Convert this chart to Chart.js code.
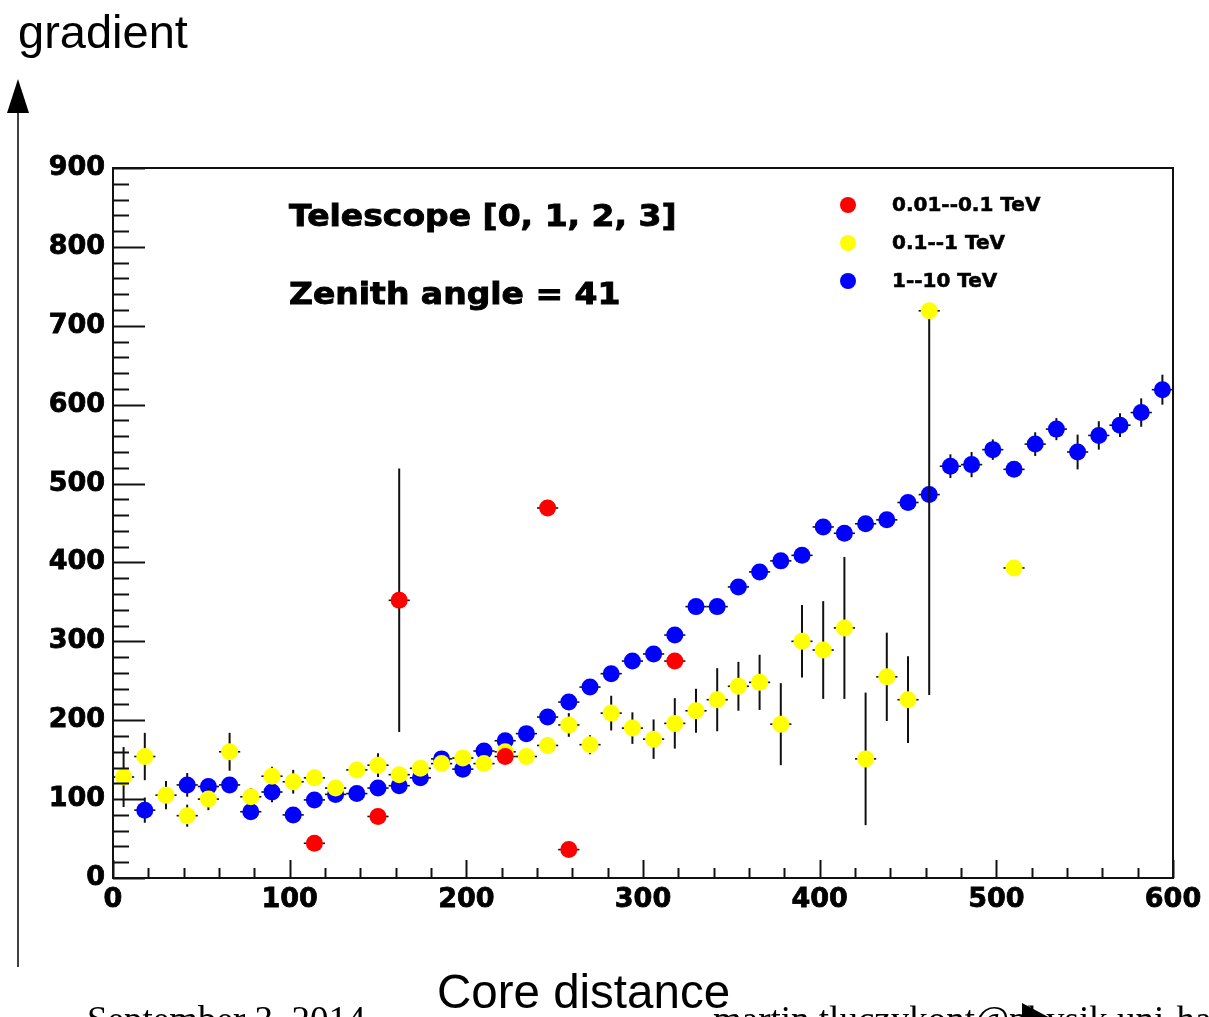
<!DOCTYPE html>
<html>
<head>
<meta charset="utf-8">
<script src="https://cdn.jsdelivr.net/npm/chart.js@4.4.1/dist/chart.umd.min.js"></script>
<style>
  html, body { margin: 0; padding: 0; background: #fff; }
  #page { position: relative; width: 1209px; height: 1017px; overflow: hidden; background: #fff; }
  #c { position: absolute; left: 0; top: 0; }
  #deco { position: absolute; left: 0; top: 0; }
</style>
</head>
<body>
<div id="page">
  <canvas id="c" width="1209" height="1017"></canvas>
  <svg id="deco" width="1209" height="1017" xmlns="http://www.w3.org/2000/svg">
    <text x="18" y="48" font-family="Liberation Sans, Arial, sans-serif" font-size="47" fill="#000">gradient</text>
    <line x1="18" y1="108" x2="18" y2="967" stroke="#000" stroke-width="1.5"/>
    <polygon points="18,79 7,113 29,113" fill="#000"/>
    <text x="437" y="1008" font-family="Liberation Sans, Arial, sans-serif" font-size="47.5" fill="#000">Core distance</text>
    <text x="87" y="1032" font-family="Liberation Serif, Times New Roman, serif" font-size="37" fill="#000">September 3, 2014</text>
    <text x="713" y="1032" font-family="Liberation Serif, Times New Roman, serif" font-size="37" fill="#000">martin.tluczykont@physik.uni-hamburg.de</text>
    <polygon points="1022,1003 1022,1037 1054,1020" fill="#000"/>
  </svg>
</div>
<script>
// Core distance bin centres (12-unit bins from 0 to 600)
const distances = [6, 18, 30, 42, 54, 66, 78, 90, 102, 114,
                   126, 138, 150, 162, 174, 186, 198, 210, 222, 234,
                   246, 258, 270, 282, 294, 306, 318, 330, 342, 354,
                   366, 378, 390, 402, 414, 426, 438, 450, 462, 474,
                   486, 498, 510, 522, 534, 546, 558, 570, 582, 594];

// 0.01--0.1 TeV
const redValues = [null, null, null, null, null, null, null, null, null, 44,
                   null, null, 78, 352, null, null, null, null, 154, null,
                   469, 36, null, null, null, null, 275, null, null, null,
                   null, null, null, null, null, null, null, null, null, null,
                   null, null, null, null, null, null, null, null, null, null];
const redErrors = [null, null, null, null, null, null, null, null, null, 5,
                   null, null, 5, 167, null, null, null, null, 5, null,
                   5, 5, null, null, null, null, 5, null, null, null,
                   null, null, null, null, null, null, null, null, null, null,
                   null, null, null, null, null, null, null, null, null, null];

// 0.1--1 TeV
const yellowValues = [128, 154, 105, 79, 100, 160, 103, 129, 122, 127,
                      114, 137, 143, 131, 139, 145, 152, 145, 160, 154,
                      168, 194, 169, 209, 190, 176, 196, 212, 226, 243,
                      248, 195, 300, 289, 317, 151, 255, 226, 719, null,
                      null, null, 393, null, null, null, null, null, null, null];
const yellowErrors = [38, 30, 18, 14, 14, 24, 11, 12, 15, 10,
                      8, 8, 15, 8, 8, 8, 8, 8, 8, 8,
                      10, 15, 12, 22, 20, 25, 32, 28, 40, 31,
                      35, 52, 46, 62, 90, 84, 56, 55, 487, null,
                      null, null, 5, null, null, null, null, null, null, null];

// 1--10 TeV
const blueValues = [null, 86, null, 118, 116, 118, 84, 109, 80, 99,
                    106, 107, 114, 117, 127, 151, 138, 161, 174, 183,
                    204, 223, 242, 259, 275, 284, 308, 344, 344, 369,
                    388, 402, 409, 445, 437, 449, 454, 476, 486, 522,
                    524, 543, 518, 550, 569, 540, 561, 574, 590, 619];
const blueErrors = [null, 16, null, 15, 10, 10, 8, 13, 8, 8,
                    8, 8, 8, 8, 8, 8, 8, 9, 9, 9,
                    10, 10, 9, 9, 9, 9, 9, 9, 9, 9,
                    9, 9, 9, 9, 9, 9, 9, 9, 9, 15,
                    16, 13, 8, 15, 14, 22, 18, 15, 18, 19];

const seriesLabels = ['0.01--0.1 TeV', '0.1--1 TeV', '1--10 TeV'];
const seriesColors = ['#ff0000', '#ffff00', '#0000ff'];
const xTickStep = 100, yTickStep = 100, minorStep = 20;
const binHalfWidth = 6;

function toPoints(values, errors) {
  const pts = [];
  for (let i = 0; i < distances.length; i++) {
    if (values[i] === null) continue;
    pts.push({ x: distances[i], y: values[i], err: errors[i] || 0 });
  }
  return pts;
}

const FONT = '"DejaVu Sans", "Liberation Sans", sans-serif';

// Error bars for each histogram, drawn right before its own markers
const errorBars = {
  id: 'errorBars',
  beforeDatasetDraw(chart, args) {
    const ds = chart.data.datasets[args.index];
    const xs = chart.scales.x, ys = chart.scales.y;
    const ctx = chart.ctx, area = chart.chartArea;
    ctx.save();
    ctx.beginPath();
    ctx.rect(area.left, area.top, area.right - area.left, area.bottom - area.top);
    ctx.clip();
    ctx.strokeStyle = '#111';
    ds.data.forEach(p => {
      const px = xs.getPixelForValue(p.x);
      const py = ys.getPixelForValue(p.y);
      // horizontal: bin width
      ctx.lineWidth = 1.6;
      ctx.beginPath();
      ctx.moveTo(xs.getPixelForValue(p.x - binHalfWidth), py);
      ctx.lineTo(xs.getPixelForValue(p.x + binHalfWidth), py);
      ctx.stroke();
      // vertical: statistical error, upper arm skipped when it leaves the frame
      ctx.lineWidth = 2;
      const lo = Math.max(p.y - p.err, ys.min);
      ctx.beginPath();
      ctx.moveTo(px, ys.getPixelForValue(lo));
      if (p.y + p.err <= ys.max) {
        ctx.lineTo(px, ys.getPixelForValue(p.y + p.err));
      } else {
        ctx.lineTo(px, py);
      }
      ctx.stroke();
    });
    ctx.restore();
  }
};

// Frame and inward tick marks
const frameTicks = {
  id: 'frameTicks',
  afterDraw(chart) {
    const ctx = chart.ctx, a = chart.chartArea;
    const xs = chart.scales.x, ys = chart.scales.y;
    ctx.save();
    ctx.strokeStyle = '#111';
    ctx.lineWidth = 2;
    for (let v = xs.min; v <= xs.max; v += minorStep) {
      const px = Math.round(xs.getPixelForValue(v)) + 0.5;
      const len = (v % xTickStep === 0) ? 18 : 10;
      ctx.beginPath();
      ctx.moveTo(px, a.bottom);
      ctx.lineTo(px, a.bottom - len);
      ctx.stroke();
    }
    for (let v = ys.min; v <= ys.max; v += minorStep) {
      const py = Math.round(ys.getPixelForValue(v)) + 0.5;
      const len = (v % yTickStep === 0) ? 32 : 16;
      ctx.beginPath();
      ctx.moveTo(a.left, py);
      ctx.lineTo(a.left + len, py);
      ctx.stroke();
    }
    ctx.strokeRect(a.left, a.top, a.right - a.left, a.bottom - a.top);
    ctx.restore();
  }
};

// Title lines and legend inside the frame
const annotations = {
  id: 'annotations',
  afterDatasetsDraw(chart) {
    const ctx = chart.ctx;
    ctx.save();
    ctx.fillStyle = '#000';
    ctx.strokeStyle = '#000';
    ctx.textBaseline = 'alphabetic';
    ctx.textAlign = 'left';
    const wide = (text, x, y, size, sx) => {
      ctx.save();
      ctx.translate(x, y);
      ctx.scale(sx, 1);
      ctx.font = 'bold ' + size + 'px ' + FONT;
      ctx.lineWidth = 0.9;
      ctx.fillText(text, 0, 0);
      ctx.strokeText(text, 0, 0);
      ctx.restore();
    };
    wide('Telescope [0, 1, 2, 3]', 289, 226, 30, 1.1);
    wide('Zenith angle = 41', 289, 304, 30, 1.1);

    const rows = [205, 243, 281];
    chart.data.datasets.forEach((ds, i) => {
      ctx.beginPath();
      ctx.fillStyle = ds.backgroundColor;
      ctx.arc(848, rows[i], 8, 0, Math.PI * 2);
      ctx.fill();
      ctx.fillStyle = '#000';
      ctx.textBaseline = 'middle';
      ctx.font = 'bold 20px ' + FONT;
      ctx.lineWidth = 0.6;
      ctx.fillText(ds.label, 892, rows[i] + 1);
      ctx.strokeText(ds.label, 892, rows[i] + 1);
    });
    ctx.restore();
  }
};

const datasets = [
  { label: seriesLabels[0], data: toPoints(redValues, redErrors), backgroundColor: seriesColors[0] },
  { label: seriesLabels[1], data: toPoints(yellowValues, yellowErrors), backgroundColor: seriesColors[1] },
  { label: seriesLabels[2], data: toPoints(blueValues, blueErrors), backgroundColor: seriesColors[2] }
].map(d => Object.assign(d, {
  pointRadius: 8.5, pointHoverRadius: 8.5, pointStyle: 'circle',
  borderWidth: 0, borderColor: d.backgroundColor, showLine: false
}));

const tickFont = { family: FONT, weight: 'bold', size: 27 };

new Chart(document.getElementById('c'), {
  type: 'scatter',
  data: { datasets },
  options: {
    responsive: false,
    animation: false,
    devicePixelRatio: 1,
    layout: { padding: { left: 0, top: 168, right: 36, bottom: 0 } },
    plugins: { legend: { display: false }, tooltip: { enabled: false } },
    scales: {
      x: {
        type: 'linear', min: 0, max: 600,
        grid: { display: false, drawTicks: false },
        border: { display: false },
        ticks: { stepSize: xTickStep, color: '#000', padding: 6, font: tickFont,
                 textStrokeColor: '#000', textStrokeWidth: 0.8 },
        afterFit(s) { s.height = 139; }
      },
      y: {
        type: 'linear', min: 0, max: 900,
        grid: { display: false, drawTicks: false },
        border: { display: false },
        ticks: { stepSize: yTickStep, color: '#000', padding: 8, font: tickFont,
                 textStrokeColor: '#000', textStrokeWidth: 0.8 },
        afterFit(s) { s.width = 113; }
      }
    }
  },
  plugins: [errorBars, frameTicks, annotations]
});
</script>
</body>
</html>
